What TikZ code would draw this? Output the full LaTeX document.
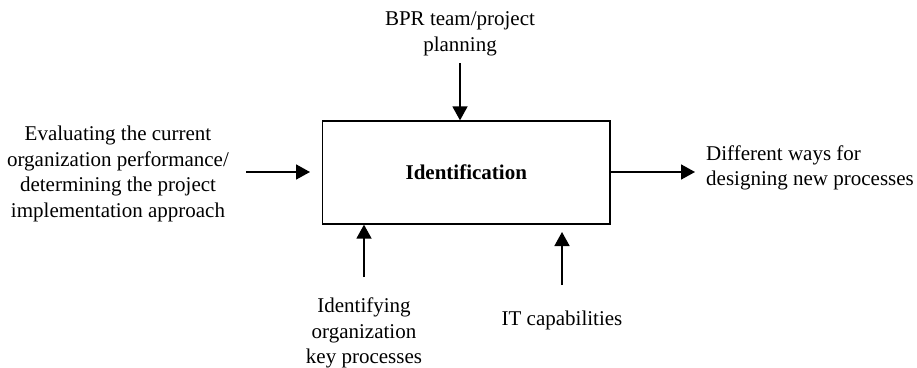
\documentclass[tikz,border=0pt]{standalone}
\usepackage{fontspec}
\setmainfont{Liberation Serif}
\usetikzlibrary{arrows.meta}
\begin{document}
\begin{tikzpicture}[x=1pt,y=-1pt,
  lbl/.style={align=center, font=\fontsize{21}{25.5}\selectfont, inner sep=0pt},
  flow/.style={-{Triangle[length=14pt,width=15pt]}, line width=1.7pt},
  procbox/.style={draw, line width=1.3pt, minimum width=287.5pt, minimum height=103pt,
    font=\fontsize{21}{25.5}\selectfont\bfseries}]
  \useasboundingbox (0,0) rectangle (917,367);

  % central process box
  \node[procbox] (box) at (466.25,172.5) {Identification};

  % control from above
  \node[lbl] (ctrl) at (460,34) {BPR team/project\\planning};
  \coordinate (ctrlS) at (460,63);
  \draw[flow] (ctrlS) -- (ctrlS |- box.north);

  % input on the left
  \node[lbl] (inp) at (118,174) {Evaluating the current\\organization performance/\\determining the project\\implementation approach};
  \coordinate (inpS) at (246,172);
  \coordinate (inpE) at (310,172);
  \draw[flow] (inpS) -- (inpE);

  % output on the right
  \node[lbl, align=left, anchor=west] (out) at (706,168) {Different ways for\\designing new processes};
  \coordinate (outE) at (695,172);
  \draw[flow] (box.east |- outE) -- (outE);

  % mechanisms from below
  \node[lbl] (mechA) at (364,333) {Identifying\\organization\\key processes};
  \coordinate (mechAS) at (364,277);
  \draw[flow] (mechAS) -- (mechAS |- box.south);

  \node[lbl] (mechB) at (562,320) {IT capabilities};
  \coordinate (mechBS) at (562,285);
  \coordinate (mechBE) at (562,232);
  \draw[flow] (mechBS) -- (mechBE);
\end{tikzpicture}
\end{document}
